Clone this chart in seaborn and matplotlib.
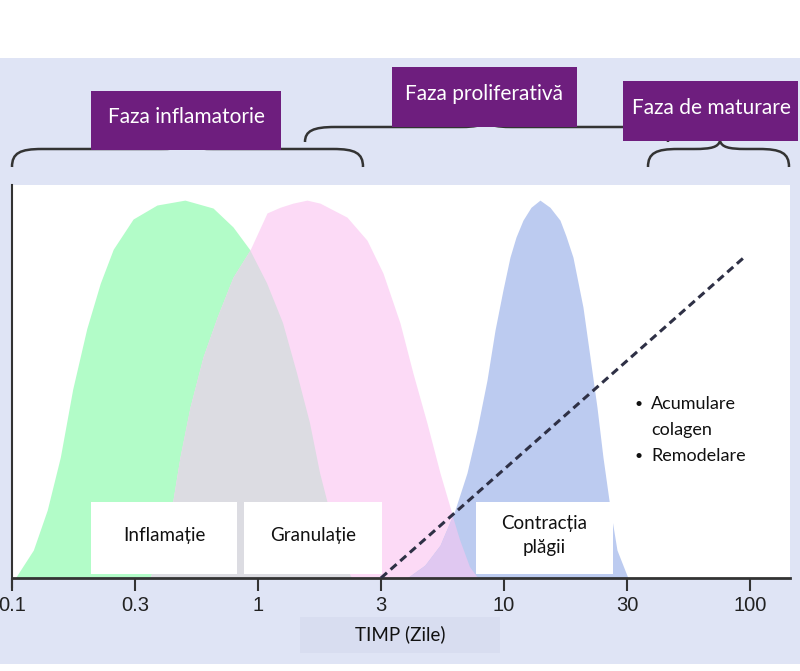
import numpy as np
import matplotlib
matplotlib.use("Agg")
import matplotlib.pyplot as plt
from matplotlib.patches import Rectangle, PathPatch
from matplotlib.path import Path
from matplotlib.ticker import NullLocator
import seaborn as sns

# time axis (days) - ticks are evenly spaced on the original figure
tick_days = [0.1, 0.3, 1, 3, 10, 30, 100]
tick_labels = ["0.1", "0.3", "1", "3", "10", "30", "100"]

# Inflamatie (green)
infl_days = [0.103, 0.121, 0.137, 0.154, 0.172, 0.195, 0.220, 0.247, 0.295, 0.372,
             0.489, 0.644, 0.783, 0.925, 1.084, 1.250, 1.417, 1.591, 1.740, 1.852,
             2.007, 2.175, 2.316]
infl_level = [0.0, 0.074, 0.18, 0.32, 0.50, 0.66, 0.78, 0.87, 0.95, 0.987,
              1.0, 0.979, 0.929, 0.868, 0.78, 0.675, 0.542, 0.41, 0.278, 0.206,
              0.114, 0.034, 0.0]

# Granulatie (pink)
gran_days = [0.348, 0.383, 0.410, 0.435, 0.466, 0.514, 0.584, 0.670, 0.783, 0.925,
             1.084, 1.217, 1.367, 1.549, 1.740, 2.214, 2.647, 3.059, 3.613, 4.103,
             4.706, 5.345, 5.894, 6.501, 7.169, 7.753]
gran_level = [0.0, 0.087, 0.153, 0.206, 0.32, 0.452, 0.585, 0.69, 0.796, 0.868,
              0.966, 0.981, 0.992, 1.0, 0.992, 0.955, 0.894, 0.807, 0.675, 0.542,
              0.41, 0.278, 0.188, 0.101, 0.029, 0.0]

# Contractia plagii (blue)
contr_days = [3.87, 4.61, 5.35, 6.19, 6.96, 7.68, 8.47, 9.16, 9.90, 10.55,
              11.13, 11.85, 12.73, 13.79, 15.08, 16.49, 17.40, 18.52, 20.25, 21.56,
              22.95, 24.21, 25.77, 27.44, 30.3]
contr_level = [0.0, 0.034, 0.087, 0.18, 0.278, 0.392, 0.524, 0.656, 0.762, 0.849,
               0.902, 0.947, 0.981, 1.0, 0.981, 0.947, 0.905, 0.849, 0.717, 0.585,
               0.452, 0.32, 0.188, 0.074, 0.0]

# Acumulare colagen (dashed)
colagen_days = [3, 95]
colagen_level = [0.0, 0.85]

GREEN = "#b2fcc8"
PINK = "#fcdaf6"
BLUE = "#bccbf0"
GREY = "#dcdce2"
LILAC = "#e0c8f1"
BAND = "#dfe4f5"
PURPLE = "#6e1e7e"
INK = "#2e3045"

sns.set_theme(style="white")
plt.rcParams["font.family"] = ["Lato", "DejaVu Sans"]

W, H = 800, 671
fig = plt.figure(figsize=(W / 100, H / 100), dpi=100, facecolor="white")

bg = fig.add_axes([0, 0, 1, 1], zorder=0)
bg.set_xlim(0, W)
bg.set_ylim(H, 0)
bg.axis("off")
bg.add_patch(Rectangle((0, 58), W, 606, color=BAND, lw=0))

ax = fig.add_axes([12 / W, (H - 578) / H, 778 / W, 393 / H], zorder=1)
ax.set_facecolor("white")

# evenly spaced ticks: piecewise log scale between tick values
anchors = np.log10([0.1, 0.3, 1, 3, 10, 30, 100, 300])
idx = np.arange(len(anchors))


def fwd(x):
    x = np.clip(np.asarray(x, dtype=float), 1e-6, None)
    return np.interp(np.log10(x), anchors, idx)


def inv(u):
    return 10 ** np.interp(np.asarray(u, dtype=float), idx, anchors)


ax.set_xscale("function", functions=(fwd, inv))
ax.set_xlim(0.1, 143)
ax.set_ylim(0, 1.04)

g = ax.fill_between(infl_days, infl_level, color=GREEN, lw=0, zorder=1)
p = ax.fill_between(gran_days, gran_level, color=PINK, lw=0, zorder=1)
gp = ax.fill_between(gran_days, gran_level, color=GREY, lw=0, zorder=2)
gp.set_clip_path(g.get_paths()[0], ax.transData)
b = ax.fill_between(contr_days, contr_level, color=BLUE, lw=0, zorder=1)
bp = ax.fill_between(contr_days, contr_level, color=LILAC, lw=0, zorder=2)
bp.set_clip_path(p.get_paths()[0], ax.transData)

sns.lineplot(x=colagen_days, y=colagen_level, ax=ax, color=INK, lw=2.2,
             linestyle=(0, (2.6, 1.6)), zorder=5)

ax.set_xticks(tick_days, tick_labels, fontfamily="Liberation Sans")
ax.xaxis.set_minor_locator(NullLocator())
ax.set_yticks([])
ax.set_xlabel("")
ax.set_ylabel("")
ax.tick_params(axis="x", bottom=True, direction="out", length=9, width=1.5,
               color="#333333", labelsize=14.5, pad=4, labelcolor="#222222")
for s in ["top", "right"]:
    ax.spines[s].set_visible(False)
ax.spines["left"].set_color("#333333")
ax.spines["left"].set_linewidth(1.5)
ax.spines["left"].set_bounds(-0.025, 1.04)
ax.spines["bottom"].set_color("#333333")
ax.spines["bottom"].set_linewidth(2)

ov = fig.add_axes([0, 0, 1, 1], zorder=3)
ov.set_xlim(0, W)
ov.set_ylim(H, 0)
ov.axis("off")
ov.patch.set_alpha(0)


def brace(x0, x1, y_tip, y_bar, xm, y_mid):
    verts = [(x0, y_tip), (x0, y_bar + 4), (x0 + 8, y_bar), (x0 + 30, y_bar),
             (xm - 26, y_bar),
             (xm - 8, y_bar), (xm - 2, y_bar - 2), (xm, y_mid),
             (xm + 2, y_bar - 2), (xm + 8, y_bar), (xm + 26, y_bar),
             (x1 - 30, y_bar),
             (x1 - 8, y_bar), (x1, y_bar + 4), (x1, y_tip)]
    codes = [Path.MOVETO, Path.CURVE4, Path.CURVE4, Path.CURVE4, Path.LINETO,
             Path.CURVE4, Path.CURVE4, Path.CURVE4,
             Path.CURVE4, Path.CURVE4, Path.CURVE4, Path.LINETO,
             Path.CURVE4, Path.CURVE4, Path.CURVE4]
    ov.add_patch(PathPatch(Path(verts, codes), fc="none", ec="#333333", lw=1.8))


brace(12, 363, 167, 149, 187, 141)
brace(305, 668, 142, 127, 486, 119)
brace(648, 789, 167, 149, 720, 141)


def box(x0, y0, x1, y1, fc):
    ov.add_patch(Rectangle((x0, y0), x1 - x0, y1 - y0, color=fc, lw=0))


box(91, 91, 281, 150, PURPLE)
ov.text(186, 117, "Faza inflamatorie", color="white", fontsize=15,
        ha="center", va="center")
box(392, 67, 577, 127, PURPLE)
ov.text(484, 94, "Faza proliferativă", color="white", fontsize=15,
        ha="center", va="center")
box(623, 81, 798, 141, PURPLE)
ov.text(711, 108, "Faza de maturare", color="white", fontsize=15,
        ha="center", va="center")

box(91, 502, 237, 574, "white")
ov.text(164, 535, "Inflamație", color="#111111", fontsize=13.5,
        ha="center", va="center")
box(244, 502, 382, 574, "white")
ov.text(313, 535, "Granulație", color="#111111", fontsize=13.5,
        ha="center", va="center")
box(476, 502, 613, 574, "white")
ov.text(544, 535, "Contracția\nplăgii", color="#111111", fontsize=13.5,
        ha="center", va="center", linespacing=1.5)

ov.text(639, 404, "•", color="#111111", fontsize=10, ha="center", va="center")
ov.text(651, 404, "Acumulare", color="#111111", fontsize=13, ha="left", va="center")
ov.text(651, 430, "colagen", color="#111111", fontsize=13, ha="left", va="center")
ov.text(639, 456, "•", color="#111111", fontsize=10, ha="center", va="center")
ov.text(651, 456, "Remodelare", color="#111111", fontsize=13, ha="left", va="center")

box(300, 617, 500, 653, "#d8ddf0")
ov.text(400, 634, "TIMP (Zile)", color="#111111", fontsize=13.5,
        ha="center", va="center")

fig.savefig("out.png", dpi=100, facecolor="white")
